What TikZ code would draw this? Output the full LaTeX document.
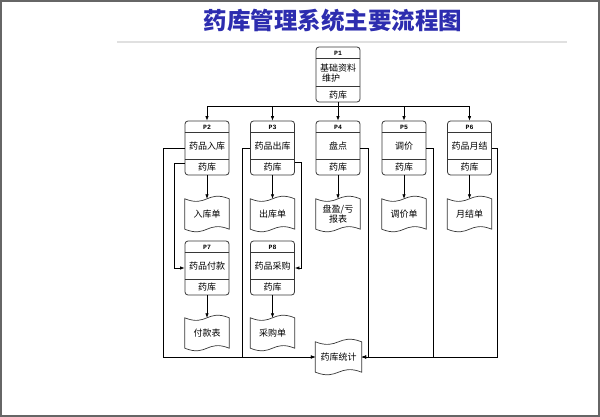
\documentclass[tikz,border=0pt]{standalone}
\usepackage{fontspec}
\newfontfamily\cjk{Noto Sans CJK SC}
\setmonofont{Liberation Mono}
\usetikzlibrary{calc,arrows.meta}
\definecolor{ttl}{RGB}{45,45,175}
\definecolor{ln}{RGB}{55,55,55}
\tikzset{
 pbox/.style={draw=ln, line width=0.8pt, rounded corners=3pt, minimum width=44pt, minimum height=54pt, inner sep=0pt},
 pline/.style={draw=ln, line width=0.6pt},
 plabel/.style={font=\ttfamily\bfseries\fontsize{6.5}{7}\selectfont, inner sep=0pt},
 ptext/.style={font=\cjk\fontsize{9}{10.5}\selectfont, inner sep=0pt},
 dnode/.style={minimum width=44pt, minimum height=30pt, inner sep=0pt, font=\cjk\fontsize{9}{10.5}\selectfont, align=center},
 dline/.style={draw=ln, line width=0.7pt},
 conn/.style={draw=black, line width=0.7pt},
 arr/.style={conn, -{Latex[length=4.5pt,width=3.5pt]}},
}
\newcommand\wavydoc[1]{\draw[dline] (#1.north west) .. controls ($(#1.north)+(0,9)$) and ($(#1.north)+(0,-9)$) .. (#1.north east) -- (#1.south east) .. controls ($(#1.south)+(0,-9)$) and ($(#1.south)+(0,9)$) .. (#1.south west) -- cycle;}
\newcommand\procbox[6]{%
  \node[pbox] (#1) at (#2,#3+27) {};
  \draw[pline] ($(#1.north west)+(0,12)$) -- ($(#1.north east)+(0,12)$);
  \draw[pline] ($(#1.south west)+(0,-16)$) -- ($(#1.south east)+(0,-16)$);
  \node[plabel] (#1-l) at (#2,#3+6.5) {#4};
  \node[ptext] (#1-m) at (#2,#3+25.5) {#5};
  \node[ptext] (#1-b) at (#2,#3+46.5) {#6};
}
\begin{document}
\begin{tikzpicture}[x=1pt,y=-1pt]
\useasboundingbox (0,0) rectangle (600,417);
\fill[white] (0,0) rectangle (600,417);
\draw[black!60, line width=2pt] (1,1) rectangle (599,416);
\draw[black!12, line width=2.5pt] (117,42) -- (567,42);
\node[font=\cjk\bfseries\fontsize{23.5}{25}\selectfont, text=ttl] (title) at (333,21) {药库管理系统主要流程图};

% P1
\node[pbox, minimum height=55pt] (P1) at (338,74.5) {};
\draw[pline] ($(P1.north west)+(0,12)$) -- ($(P1.north east)+(0,12)$);
\draw[pline] ($(P1.north west)+(0,40)$) -- ($(P1.north east)+(0,40)$);
\node[plabel] (P1-l) at (338,53) {P1};
\node[ptext, align=left] (P1-m) at (338,73) {基础资料\\\hspace*{2pt}维护};
\node[ptext] (P1-b) at (338,95) {药库};

\procbox{P2}{207}{121}{P2}{药品入库}{药库}
\procbox{P3}{272.5}{121}{P3}{药品出库}{药库}
\procbox{P4}{338}{121}{P4}{盘点}{药库}
\procbox{P5}{404}{121}{P5}{调价}{药库}
\procbox{P6}{469.5}{121}{P6}{药品月结}{药库}
\procbox{P7}{207}{241}{P7}{药品付款}{药库}
\procbox{P8}{272.5}{241}{P8}{药品采购}{药库}

\node[dnode] (D2) at (207,214) {\raisebox{-2pt}{入库单}}; \wavydoc{D2}
\node[dnode] (D3) at (272.5,214) {\raisebox{-2pt}{出库单}}; \wavydoc{D3}
\node[dnode] (D4) at (338,214) {盘盈/亏\\报表}; \wavydoc{D4}
\node[dnode] (D5) at (404,214) {\raisebox{-2pt}{调价单}}; \wavydoc{D5}
\node[dnode] (D6) at (469.5,214) {\raisebox{-2pt}{月结单}}; \wavydoc{D6}
\node[dnode] (D7) at (207,333) {\raisebox{-2pt}{付款表}}; \wavydoc{D7}
\node[dnode] (D8) at (272.5,333) {\raisebox{-2pt}{采购单}}; \wavydoc{D8}
\node[dnode, minimum width=46pt] (ST) at (338.5,357) {药库统计}; \wavydoc{ST}

% bus
\coordinate (bus) at (338,106);
\draw[conn] (P1.south) -- (bus);
\draw[arr] (bus) -| (P2.north);
\draw[arr] (bus) -| (P3.north);
\draw[arr] (bus) -- (P4.north);
\draw[arr] (bus) -| (P5.north);
\draw[arr] (bus) -| (P6.north);

% boxes to documents
\draw[arr] (P2.south) -- (D2.north);
\draw[arr] (P3.south) -- (D3.north);
\draw[arr] (P4.south) -- (D4.north);
\draw[arr] (P5.south) -- (D5.north);
\draw[arr] (P6.south) -- (D6.north);
\draw[arr] (P7.south) -- (D7.north);
\draw[arr] (P8.south) -- (D8.north);

% side connectors
\draw[arr] ([yshift=-15pt]P2.west) -- ++(-10,0) |- (P7.west);
\draw[arr] ([yshift=-14pt]P3.east) -- ++(6.5,0) |- (P8.east);
\draw[arr] (P2.west) -- ++(-21,0) |- (ST.west);
\draw[arr] (P3.west) -- ++(-8,0) |- (ST.west);
\draw[arr] (P4.east) -- ++(8,0) |- (ST.east);
\draw[arr] (P5.east) -- ++(7,0) |- (ST.east);
\draw[arr] (P6.east) -- ++(5.5,0) |- (ST.east);
\end{tikzpicture}
\end{document}
